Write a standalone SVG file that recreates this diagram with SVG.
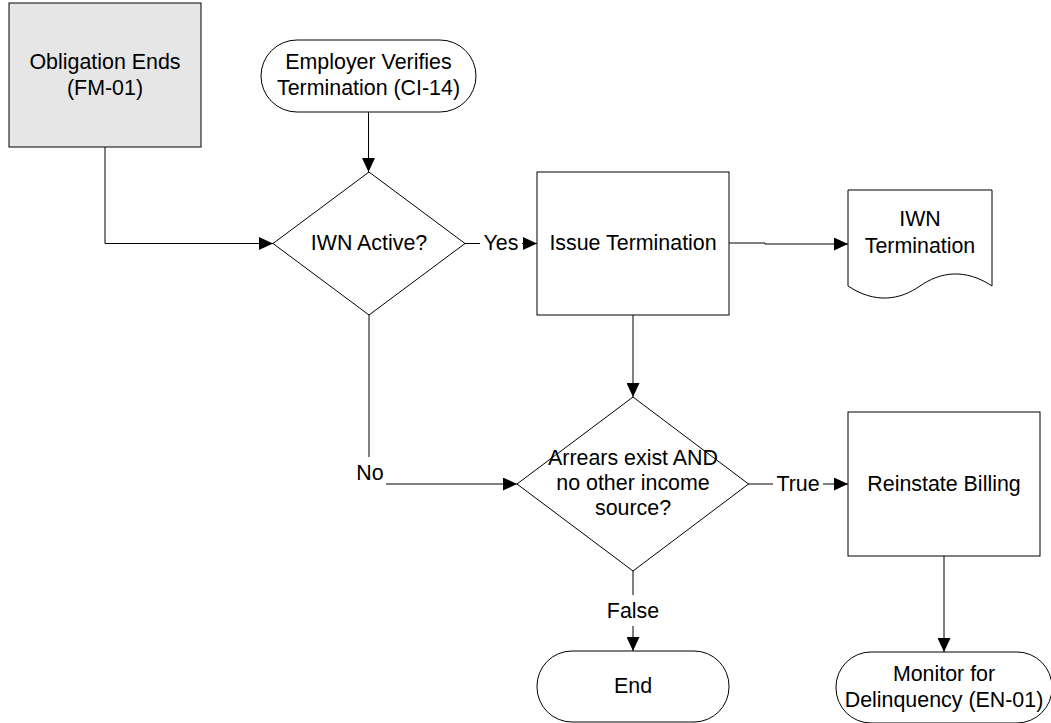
<svg xmlns="http://www.w3.org/2000/svg" width="1051" height="723" viewBox="0 0 1051 723">
  <defs>
    <marker id="arrow" markerUnits="userSpaceOnUse" markerWidth="14" markerHeight="13" refX="14" refY="6.5" orient="auto">
      <path d="M0,0 L14,6.5 L0,13 Z" fill="#000"/>
    </marker>
    <style>
      .shape { fill: #fff; stroke: #000; stroke-width: 1; }
      .start { fill: #e6e6e6; stroke: #000; stroke-width: 1; }
      .edge { fill: none; stroke: #000; stroke-width: 1; marker-end: url(#arrow); }
      .lblbg { fill: #fff; stroke: none; }
      text { font-family: "Liberation Sans", Arial, sans-serif; font-size: 21.4px; fill: #000; text-anchor: middle; }
    </style>
  </defs>
  <rect width="1051" height="723" fill="#fff"/>

  <g id="connectors">
    <path class="edge" d="M105,147 V243.5 H273"/>
    <path class="edge" d="M368.5,112 V172"/>
    <path class="edge" d="M465,243.5 H537"/>
    <path class="edge" d="M729,243 H765 V244 H848"/>
    <path class="edge" d="M633,315 V397"/>
    <path class="edge" d="M369,315 V484 H517"/>
    <path class="edge" d="M748,484 H848"/>
    <path class="edge" d="M633,571 V651"/>
    <path class="edge" d="M944,556 V652"/>

    <rect class="lblbg" x="480" y="232" width="42" height="22"/>
    <text x="501" y="250">Yes</text>
    <rect class="lblbg" x="353" y="457" width="33" height="32"/>
    <text x="370" y="480">No</text>
    <rect class="lblbg" x="773" y="473" width="50" height="22"/>
    <text x="798" y="491">True</text>
    <rect class="lblbg" x="606" y="595" width="54" height="31"/>
    <text x="633" y="618">False</text>
  </g>

  <g id="obligation-ends">
    <rect class="start" x="9" y="3" width="192" height="144"/>
    <text x="105" y="69">Obligation Ends</text>
    <text x="105" y="95">(FM-01)</text>
  </g>

  <g id="employer-verifies">
    <rect class="shape" x="261" y="40" width="215" height="72" rx="36" ry="36"/>
    <text x="368.5" y="69">Employer Verifies</text>
    <text x="368.5" y="95">Termination (CI-14)</text>
  </g>

  <g id="iwn-active">
    <path class="shape" d="M369,172 L465,243.5 L369,315 L273,243.5 Z"/>
    <text x="369" y="250">IWN Active?</text>
  </g>

  <g id="issue-termination">
    <rect class="shape" x="537" y="172" width="192" height="143"/>
    <text x="633" y="250">Issue Termination</text>
  </g>

  <g id="iwn-termination">
    <path class="shape" d="M848,190 H992 V286 C965,268 940,272 920,286 C900,300 875,304 848,286 Z"/>
    <text x="920" y="226">IWN</text>
    <text x="920" y="253">Termination</text>
  </g>

  <g id="arrears-check">
    <path class="shape" d="M633,397 L748.5,484 L633,571 L517,484 Z"/>
    <text x="633" y="465">Arrears exist AND</text>
    <text x="633" y="490">no other income</text>
    <text x="633" y="515">source?</text>
  </g>

  <g id="reinstate-billing">
    <rect class="shape" x="848" y="412" width="192" height="144"/>
    <text x="944" y="491">Reinstate Billing</text>
  </g>

  <g id="end">
    <rect class="shape" x="537" y="651" width="192" height="71" rx="35" ry="35"/>
    <text x="633" y="693">End</text>
  </g>

  <g id="monitor-delinquency">
    <rect class="shape" x="836" y="652" width="216" height="71" rx="35" ry="35"/>
    <text x="944" y="681">Monitor for</text>
    <text x="944" y="707">Delinquency (EN-01)</text>
  </g>
</svg>
